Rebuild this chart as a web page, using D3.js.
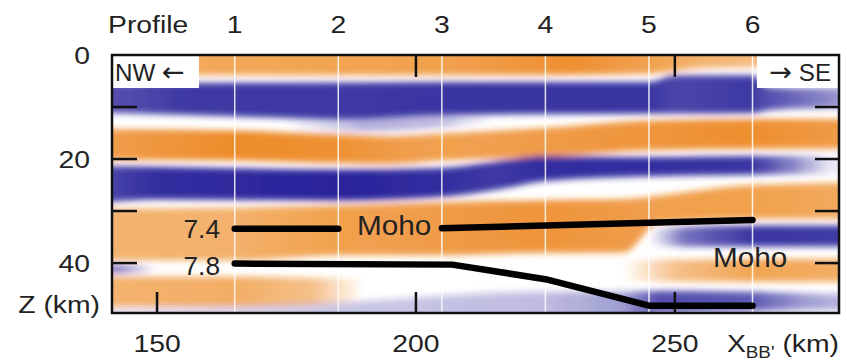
<!DOCTYPE html>
<html>
<head>
  <script src="https://d3js.org/d3.v7.min.js"></script>
  <style>
    body { margin: 0; background: #fff; }
    text { font-family: "Liberation Sans", Arial, sans-serif; fill: #222; }
  </style>
</head>
<body>
  <svg id="chart" width="847" height="362"></svg>
  <script>
    // profile positions along X_BB' (km)
    const profiles = [1, 2, 3, 4, 5, 6];
    const profileX = [165, 185, 205, 225, 245, 265];
    const xTicks = [150, 200, 250];
    const zTicks = [10, 20, 30, 40];
    const zLabels = [0, 20, 40];

    // amplitude bands: [x km, top z km, bottom z km, amplitude]
    const bandA = [[135,-3,4.0,0.65],[165,-3,3.9,0.7],[205,-3,3.9,0.75],[230,-3,3.8,0.9],[245,-3,3.6,0.75],[255,-3,2.6,0.6],[265,-3,2.4,0.55],[290,-3,2.4,0.5]];
    const bandB = [[135,5.6,11.0,0.75],[155,5.4,11.5,0.9],[185,5.3,12.3,0.9],[205,5.2,11.5,0.92],[245,5.2,11.3,0.92],[250,3.9,11.3,0.85],[265,3.9,11.2,0.9],[268,6.2,10.6,0.8],[275,6.4,10.3,0.65],[290,6.4,10.3,0.25]];
    const bandB2 = [[175,11,14.5,0],[190,11.5,14.8,0.35],[205,11.3,14,0.3],[215,11,13,0]];
    const bandC = [[135,14.2,20.2,0.75],[165,14.5,20.3,0.92],[185,15.3,20.8,0.88],[195,15.6,21,0.8],[205,15.1,20.3,0.75],[225,14,19.6,0.8],[245,12.6,18.3,0.85],[265,12.3,18,0.9],[290,12.3,18,0.75]];
    const bandD = [[135,21.3,29,0.8],[150,21.5,27.8,0.95],[185,22,28,1],[205,21.7,27.3,0.95],[215,20.5,26,0.9],[225,19.4,24.2,0.95],[245,19.6,23.3,0.95],[265,19.4,23,0.92],[272,19.4,22.9,0.6],[280,19.4,22.8,0.1],[290,19.4,22.8,0]];
    const bandE = [[135,29.5,39.5,0.6],[165,29.3,39.5,0.62],[185,28.9,38.5,0.75],[205,28.3,38.5,0.8],[225,27.9,38,0.85],[240,27.7,38,0.8],[247,27,32.2,0.75],[265,25,31.5,0.75],[290,24.5,31.5,0.65]];
    const bandF = [[135,42.6,48.4,0.6],[165,42.6,48.3,0.65],[180,42.8,48,0.5],[190,43,47.5,0]];
    const bandG = [[135,40.3,42,0.6],[143,40.3,42,0.55],[150,40.5,41.8,0]];
    const bandH = [[135,48.8,52,0.15],[185,47.5,52,0.25],[225,45.5,52,0.3],[240,45.5,52,0.45],[247,45.3,49.5,0.8],[265,45.5,49.2,0.75],[275,45.8,49,0.45],[290,46,49,0.2]];
    const bandI = [[245,33.5,36.5,0],[252,33,36.8,0.65],[265,32.8,36.8,0.92],[290,32.8,36.8,0.88]];
    const bandJ = [[240,39.5,43.5,0],[250,39.3,43.6,0.5],[265,39.2,43.6,0.72],[290,39.2,43.6,0.62]];

    const bands = [
      {name: "A", pts: bandA, pos: true},
      {name: "B", pts: bandB, pos: false},
      {name: "B2", pts: bandB2, pos: false},
      {name: "C", pts: bandC, pos: true},
      {name: "D", pts: bandD, pos: false},
      {name: "E", pts: bandE, pos: true},
      {name: "F", pts: bandF, pos: true},
      {name: "G", pts: bandG, pos: false},
      {name: "H", pts: bandH, pos: false},
      {name: "I", pts: bandI, pos: false},
      {name: "J", pts: bandJ, pos: true}
    ];

    // Moho picks
    const moho74a = [[165,33.4],[185,33.4]];
    const moho74b = [[205,33.3],[265,31.7]];
    const moho78 = [[165,40.1],[207,40.3],[225,43.1],[245,48.2],[265,48.2]];

    const svg = d3.select("#chart");
    const x = d3.scaleLinear().domain([141.3, 281.7]).range([112, 839]);
    const z = d3.scaleLinear().domain([0, 49.6]).range([55, 313]);
    const [x0, x1] = x.range();
    const [y0, y1] = z.range();

    const defs = svg.append("defs");
    defs.append("clipPath").attr("id", "frame")
      .append("rect").attr("x", x0).attr("y", y0).attr("width", x1 - x0).attr("height", y1 - y0);
    defs.append("filter").attr("id", "soft")
      .attr("x", -0.1).attr("y", -0.5).attr("width", 1.2).attr("height", 2)
      .append("feGaussianBlur").attr("stdDeviation", "3 3.2");

    const orange = "#ec8216", blue = "#29239a";

    const img = svg.append("g").attr("clip-path", "url(#frame)")
      .append("g").attr("filter", "url(#soft)");

    const area = d3.area()
      .x(d => x(d[0]))
      .y0(d => z(d[1]))
      .y1(d => z(d[2]))
      .curve(d3.curveMonotoneX);

    bands.forEach(b => {
      const first = b.pts[0][0], last = b.pts[b.pts.length - 1][0];
      const grad = defs.append("linearGradient")
        .attr("id", "g" + b.name)
        .attr("gradientUnits", "userSpaceOnUse")
        .attr("x1", x(first)).attr("x2", x(last)).attr("y1", 0).attr("y2", 0);
      b.pts.forEach(p => {
        grad.append("stop")
          .attr("offset", (p[0] - first) / (last - first))
          .attr("stop-color", b.pos ? orange : blue)
          .attr("stop-opacity", p[3]);
      });
      img.append("path").datum(b.pts).attr("d", area).attr("fill", `url(#g${b.name})`);
    });

    // profile lines
    svg.append("g").selectAll("line").data(profileX).join("line")
      .attr("x1", d => x(d)).attr("x2", d => x(d))
      .attr("y1", y0).attr("y2", y1)
      .attr("stroke", "#fff").attr("stroke-width", 1.5).attr("opacity", 0.85);

    // ticks
    const ticks = svg.append("g").attr("stroke", "#111").attr("stroke-width", 2.5);
    zTicks.forEach(t => {
      ticks.append("line").attr("x1", x0).attr("x2", x0 + 25).attr("y1", z(t)).attr("y2", z(t));
      ticks.append("line").attr("x1", x1).attr("x2", x1 - 24).attr("y1", z(t)).attr("y2", z(t));
    });
    xTicks.forEach(t => {
      ticks.append("line").attr("x1", x(t)).attr("x2", x(t)).attr("y1", y1).attr("y2", y1 - 21);
      ticks.append("line").attr("x1", x(t)).attr("x2", x(t)).attr("y1", y0).attr("y2", y0 + 22);
    });

    // Moho lines
    const line = d3.line().x(d => x(d[0])).y(d => z(d[1]));
    [moho74a, moho74b, moho78].forEach(m => {
      svg.append("path").datum(m).attr("d", line)
        .attr("fill", "none").attr("stroke", "#000")
        .attr("stroke-width", 6.5).attr("stroke-linecap", "round").attr("stroke-linejoin", "round");
    });

    // direction boxes
    svg.append("rect").attr("x", x0).attr("y", y0).attr("width", 87).attr("height", 33).attr("fill", "#fff");
    svg.append("rect").attr("x", 757).attr("y", y0).attr("width", x1 - 757).attr("height", 33).attr("fill", "#fff");

    // frame
    svg.append("rect").attr("x", x0).attr("y", y0).attr("width", x1 - x0).attr("height", y1 - y0)
      .attr("fill", "none").attr("stroke", "#111").attr("stroke-width", 2.5);

    // stretched text helper
    function label(tx, ty, txt, size, anchor, sx) {
      return svg.append("text")
        .attr("transform", `translate(${tx},${ty}) scale(${sx || 1.18},1)`)
        .attr("text-anchor", anchor || "middle")
        .attr("font-size", size)
        .text(txt);
    }

    label(108, 33, "Profile", 24, "start");
    profiles.forEach((p, i) => label(x(profileX[i]), 33, p, 24));
    zLabels.forEach(t => label(90, z(t) + 9, t, 24, "end"));
    xTicks.forEach(t => label(x(t), 352, t, 24));
    label(100, 313, "Z (km)", 24, "end");

    const xt = svg.append("text")
      .attr("transform", `translate(839,352) scale(1.18,1)`)
      .attr("text-anchor", "end").attr("font-size", 24);
    xt.append("tspan").text("X");
    xt.append("tspan").attr("font-size", 16).attr("dy", 6).text("BB'");
    xt.append("tspan").attr("dy", -6).text(" (km)");

    const nw = label(115, 81, "NW ", 23, "start", 1.05);
    nw.append("tspan").style("font-family", "DejaVu Sans").attr("font-size", 26).text("\u2190");
    const se = svg.append("text")
      .attr("transform", `translate(831,81) scale(1.05,1)`)
      .attr("text-anchor", "end").attr("font-size", 23);
    se.append("tspan").style("font-family", "DejaVu Sans").attr("font-size", 26).text("\u2192");
    se.append("tspan").text(" SE");

    label(220, 238, "7.4", 25, "end", 1.05);
    label(220, 275, "7.8", 25, "end", 1.05);
    label(357, 235, "Moho", 27, "start", 1.1);
    label(713, 267, "Moho", 27, "start", 1.1);
  </script>
</body>
</html>
